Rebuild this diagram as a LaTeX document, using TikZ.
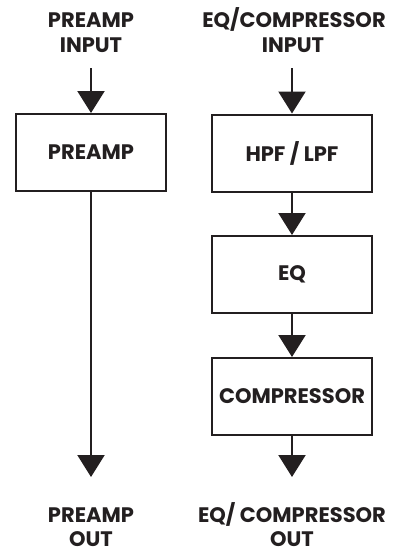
\documentclass[tikz,border=0pt]{standalone}
\usepackage{fontspec}
\setmainfont{Poppins}
\usetikzlibrary{arrows.meta}
\definecolor{ink}{HTML}{231F20}
\begin{document}
\begin{tikzpicture}[x=1pt,y=-1pt,
  lbl/.style={font=\bfseries\fontsize{21}{25}\selectfont, text=ink, inner sep=0pt, anchor=base},
  blk/.style={draw=ink, line width=2pt, minimum width=150pt, minimum height=77pt, font=\bfseries\fontsize{21}{24}\selectfont, text=ink, inner sep=0pt},
  arr/.style={draw=ink, line width=2.2pt, -{Triangle[width=27pt,length=22pt]}}
]
\useasboundingbox (0,0) rectangle (404,552);
% left column
\node[lbl] (pinA) at (91,27) {PREAMP};
\node[lbl] (pinB) at (91,52.5) {INPUT};
\coordinate (pinS) at (91,68);
\node[blk] (preamp) at (91,152.5) {PREAMP};
\coordinate (pout) at (91,477);
\node[lbl] (poutA) at (91,522) {PREAMP};
\node[lbl] (poutB) at (91,546) {OUT};
% right column
\node[lbl] (einA) at (294,27.5) {EQ/COMPRESSOR};
\node[lbl] (einB) at (293,52.5) {INPUT};
\coordinate (einS) at (292,68);
\node[blk, minimum width=160pt] (hpf) at (292,153) {HPF / LPF};
\node[blk, minimum width=160pt] (eq) at (292,274.5) {EQ};
\node[blk, minimum width=160pt] (comp) at (292,396.5) {COMPRESSOR};
\coordinate (eout) at (292,477);
\node[lbl] (eoutA) at (292,522) {EQ/ COMPRESSOR};
\node[lbl] (eoutB) at (292,546) {OUT};
% connectors
\draw[arr] (pinS) -- (preamp.north);
\draw[arr] (preamp.south) -- (pout);
\draw[arr] (einS) -- (hpf.north);
\draw[arr] (hpf.south) -- (eq.north);
\draw[arr] (eq.south) -- (comp.north);
\draw[arr] (comp.south) -- (eout);
\end{tikzpicture}
\end{document}
